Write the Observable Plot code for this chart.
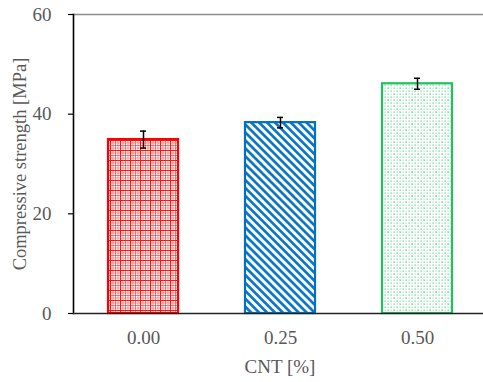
<!DOCTYPE html>
<html>
<head>
<meta charset="utf-8">
<script src="https://cdn.jsdelivr.net/npm/d3@7"></script>
<script src="https://cdn.jsdelivr.net/npm/@observablehq/plot@0.6"></script>
<style>
  html, body { margin: 0; padding: 0; background: #fff; }
  #chart svg { display: block; overflow: visible; }
</style>
</head>
<body>
<div id="chart"></div>
<script>
// Data
const cnt = ["0.00", "0.25", "0.50"];
const strength = [34.9, 38.3, 46.1];
const errorBar = [1.7, 1.05, 1.1];
const yTicks = [0, 20, 40, 60];
const xLabel = "CNT [%]";
const yLabel = "Compressive strength [MPa]";

// Styles (not data)
const fillById = {"0.00": "url(#patGrid)", "0.25": "url(#patDiag)", "0.50": "url(#patDots)"};
const strokeById = {"0.00": "#ff0000", "0.25": "#0070c0", "0.50": "#22bf62"};

const data = cnt.map((c, i) => ({cnt: c, value: strength[i], err: errorBar[i]}));

const font = "'Liberation Serif', 'Times New Roman', serif";
const grey = "#595959";

const svg = Plot.plot({
  width: 483,
  height: 382,
  marginTop: 14,
  marginBottom: 69,
  marginLeft: 73,
  marginRight: -3,
  style: {fontFamily: font, fontSize: "19px", color: grey, background: "#fff"},
  x: {domain: cnt, paddingInner: 0.49, paddingOuter: 0.25, label: null},
  y: {domain: [0, 60], label: null},
  color: {type: "identity"},
  marks: [
    Plot.barY(data, {x: "cnt", y: "value", fill: d => fillById[d.cnt], stroke: d => strokeById[d.cnt], strokeWidth: 2.2}),
    Plot.ruleX(data, {x: "cnt", y1: d => d.value - d.err, y2: d => d.value + d.err, stroke: "#000", strokeWidth: 1.5}),
    Plot.tickY(data, {x: "cnt", y: d => d.value - d.err, stroke: "#000", strokeWidth: 1.5, insetLeft: 32, insetRight: 32}),
    Plot.tickY(data, {x: "cnt", y: d => d.value + d.err, stroke: "#000", strokeWidth: 1.5, insetLeft: 32, insetRight: 32}),
    Plot.frame({anchor: "top", stroke: "#8c8c8c", strokeWidth: 1.5}),
    Plot.frame({anchor: "left", stroke: "#000", strokeWidth: 1.6}),
    Plot.frame({anchor: "bottom", stroke: "#222", strokeWidth: 1.6}),
    Plot.axisY({ticks: yTicks, tickSize: 5, tickPadding: 17, stroke: "#000", strokeWidth: 1.2, fill: grey, fontSize: 19, label: null}),
    Plot.axisX({tickSize: 0, tickPadding: 17, fill: grey, fontSize: 19, label: null}),
    Plot.text([yLabel], {frameAnchor: "left", textAnchor: "middle", lineAnchor: "middle", rotate: -90, dx: -53, fill: grey, fontSize: 18.5, fontFamily: font}),
    Plot.text([xLabel], {frameAnchor: "bottom", lineAnchor: "middle", dy: 53, fill: grey, fontSize: 19, fontFamily: font})
  ]
});

// Hatch patterns
const defs = d3.select(svg).insert("defs", ":first-child");
// Red grid
const g = defs.append("pattern").attr("id", "patGrid").attr("patternUnits", "userSpaceOnUse")
  .attr("width", 10).attr("height", 10);
g.append("rect").attr("width", 10).attr("height", 10).attr("fill", "#fff");
[[0, 1.1, 0.9], [2.5, 0.8, 0.5], [5, 0.8, 0.65], [7.5, 0.8, 0.5]].forEach(([p, w, o]) => {
  g.append("line").attr("x1", p + 0.5).attr("x2", p + 0.5).attr("y1", 0).attr("y2", 10)
    .attr("stroke", "#ff0000").attr("stroke-width", w).attr("stroke-opacity", o);
  g.append("line").attr("y1", p + 0.5).attr("y2", p + 0.5).attr("x1", 0).attr("x2", 10)
    .attr("stroke", "#ff0000").attr("stroke-width", w).attr("stroke-opacity", o);
});
// Blue diagonal
const b = defs.append("pattern").attr("id", "patDiag").attr("patternUnits", "userSpaceOnUse")
  .attr("width", 5.6).attr("height", 10).attr("patternTransform", "rotate(-45)");
b.append("rect").attr("width", 5.6).attr("height", 10).attr("fill", "#fff");
b.append("line").attr("x1", 1.4).attr("x2", 1.4).attr("y1", 0).attr("y2", 10)
  .attr("stroke", "#0070c0").attr("stroke-width", 2.6);
// Green dots
const dPat = defs.append("pattern").attr("id", "patDots").attr("patternUnits", "userSpaceOnUse")
  .attr("width", 12).attr("height", 12);
dPat.append("rect").attr("width", 12).attr("height", 12).attr("fill", "#fff");
for (let i = 0; i < 4; i++) {
  for (let j = 0; j < 4; j++) {
    const o = ((i + j) % 2 === 0) ? 0.7 : 0.4;
    dPat.append("rect").attr("x", i * 3 + 0.5).attr("y", j * 3 + 0.5).attr("width", 1.3).attr("height", 1.3)
      .attr("fill", "#22bf62").attr("fill-opacity", (i === 1 && j === 1) || (i === 3 && j === 3) ? 0.9 : o);
  }
}

document.getElementById("chart").appendChild(svg);
</script>
</body>
</html>
